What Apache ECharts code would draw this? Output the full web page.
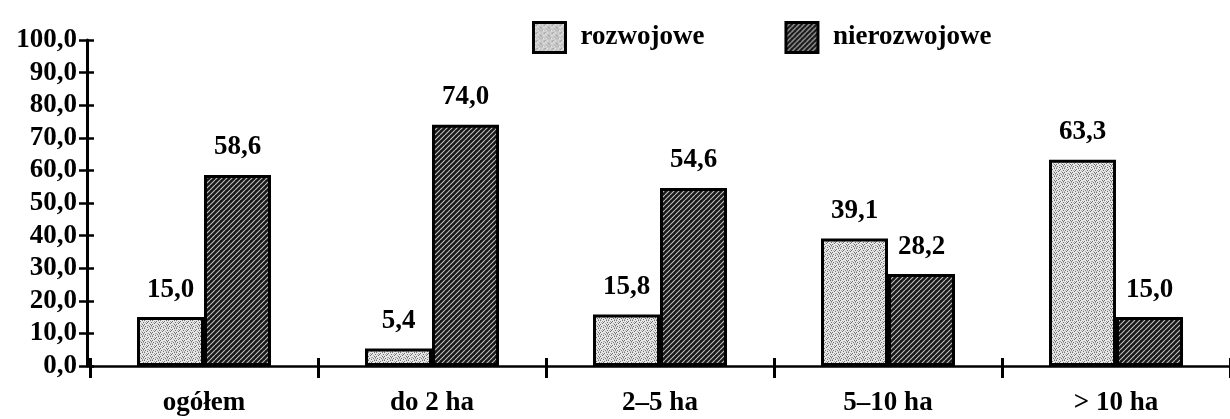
<!DOCTYPE html>
<html>
<head>
<meta charset="utf-8">
<script src="https://cdn.jsdelivr.net/npm/echarts@6/dist/echarts.min.js"></script>
<style>
  html, body { margin: 0; padding: 0; background: #fff; }
  #chart { width: 1230px; height: 419px; }
</style>
</head>
<body>
<div id="chart"></div>
<script>
// Farm categories by area and the share of developing / non-developing farms (%)
const categories = ['ogółem', 'do 2 ha', '2–5 ha', '5–10 ha', '> 10 ha'];
const rozwojowe = [15.0, 5.4, 15.8, 39.1, 63.3];
const nierozwojowe = [58.6, 74.0, 54.6, 28.2, 15.0];
const seriesNames = ['rozwojowe', 'nierozwojowe'];

const FONT = '"Liberation Serif", "DejaVu Serif", serif';
const fmt = v => Number(v).toFixed(1).replace('.', ',');

// Light stippled fill
function stipplePattern() {
  const c = document.createElement('canvas');
  c.width = 8; c.height = 8;
  const g = c.getContext('2d');
  g.fillStyle = '#e6e6e6';
  g.fillRect(0, 0, 8, 8);
  const dots = [[0,0],[4,1],[2,3],[6,4],[1,6],[5,6],[3,7],[7,2],[6,0],[0,4],[3,2],[7,5]];
  g.fillStyle = '#6e6e6e';
  dots.forEach(([x, y]) => g.fillRect(x, y, 1, 1));
  g.fillStyle = '#a8a8a8';
  [[2,1],[5,3],[3,5],[7,6],[1,2],[4,5],[6,7],[0,7]].forEach(([x, y]) => g.fillRect(x, y, 1, 1));
  return c;
}

// Dark diagonal hatch fill
function hatchPattern() {
  const s = 5;
  const c = document.createElement('canvas');
  c.width = s; c.height = s;
  const g = c.getContext('2d');
  g.fillStyle = '#181818';
  g.fillRect(0, 0, s, s);
  g.strokeStyle = '#c0c0c0';
  g.lineWidth = 1.1;
  g.beginPath();
  for (let k = -1; k <= 1; k++) {
    g.moveTo(k * s, s);
    g.lineTo(k * s + s, 0);
  }
  g.stroke();
  return c;
}

const fills = [
  { image: stipplePattern(), repeat: 'repeat' },
  { image: hatchPattern(), repeat: 'repeat' }
];

const chart = echarts.init(document.getElementById('chart'), null, { renderer: 'canvas' });

const labelStyle = {
  show: true,
  position: 'top',
  distance: 14,
  formatter: p => fmt(p.value),
  color: '#000',
  fontFamily: FONT,
  fontWeight: 'bold',
  fontSize: 27
};

const yBase = { type: 'value', min: 0, max: 100, interval: 10, position: 'left', offset: 3 };
const xBase = { type: 'category', data: categories, position: 'bottom' };

chart.setOption({
  backgroundColor: '#fff',
  animation: false,
  legend: {
    left: 527,
    top: 16,
    icon: 'rect',
    itemWidth: 32,
    itemHeight: 30,
    itemGap: 80,
    data: seriesNames,
    itemStyle: { borderColor: '#000', borderWidth: 3 },
    textStyle: {
      color: '#000',
      fontFamily: FONT,
      fontWeight: 'bold',
      fontSize: 27,
      padding: [0, 0, 0, 10]
    }
  },
  grid: { left: 90, right: 0, top: 40, bottom: 53, containLabel: false },
  xAxis: [
    Object.assign({}, xBase, {
      axisLine: { show: true, lineStyle: { color: '#000', width: 2.5 } },
      axisTick: { show: true, inside: false, length: 12, lineStyle: { color: '#000', width: 3 } },
      axisLabel: {
        margin: 24, color: '#000', fontFamily: FONT, fontWeight: 'bold', fontSize: 27
      },
      splitLine: { show: false }
    }),
    Object.assign({}, xBase, {
      axisLine: { show: false },
      axisTick: { show: true, inside: true, length: 8, lineStyle: { color: '#000', width: 3 } },
      axisLabel: { show: false },
      splitLine: { show: false }
    })
  ],
  yAxis: [
    Object.assign({}, yBase, {
      axisLine: { show: true, lineStyle: { color: '#000', width: 3 } },
      axisTick: { show: true, inside: false, length: 8, lineStyle: { color: '#000', width: 2.5 } },
      axisLabel: {
        margin: 10, formatter: v => fmt(v), color: '#000',
        fontFamily: FONT, fontWeight: 'bold', fontSize: 27
      },
      splitLine: { show: false }
    }),
    Object.assign({}, yBase, {
      axisLine: { show: false },
      axisTick: { show: true, inside: true, length: 7, lineStyle: { color: '#000', width: 2.5 } },
      axisLabel: { show: false },
      splitLine: { show: false }
    })
  ],
  series: [
    {
      name: seriesNames[0],
      type: 'bar',
      data: rozwojowe,
      barWidth: 67,
      barGap: '0%',
      itemStyle: { color: fills[0], borderColor: '#000', borderWidth: 3 },
      label: labelStyle
    },
    {
      name: seriesNames[1],
      type: 'bar',
      data: nierozwojowe,
      barWidth: 67,
      barGap: '0%',
      itemStyle: { color: fills[1], borderColor: '#000', borderWidth: 3 },
      label: labelStyle
    }
  ]
});
</script>
</body>
</html>
